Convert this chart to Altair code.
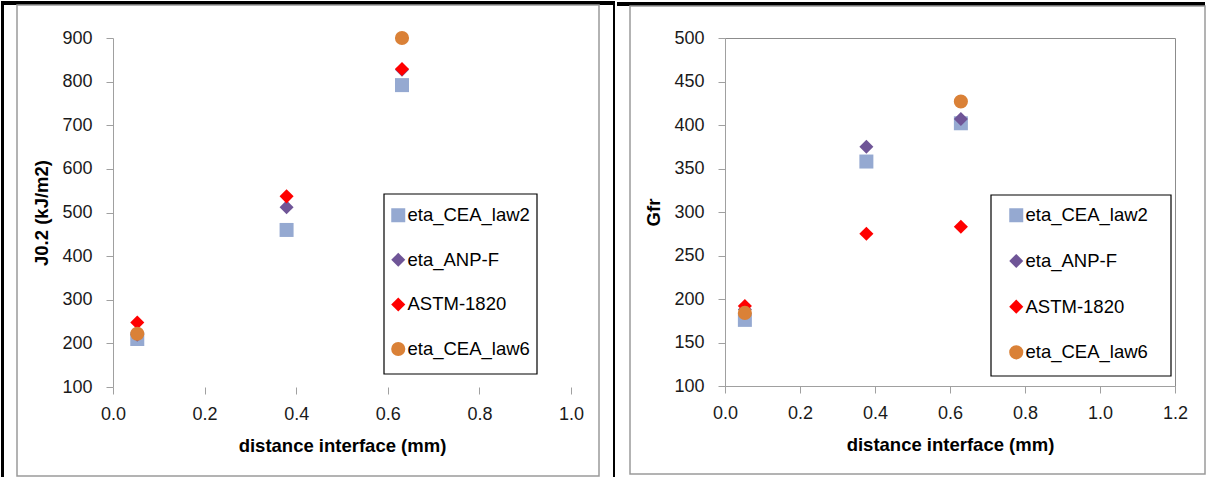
import altair as alt
import pandas as pd

# ---- data ----
series = ["eta_CEA_law2", "eta_ANP-F", "ASTM-1820", "eta_CEA_law6"]
colors = ["#95A9D1", "#6F5597", "#FF0000", "#DA8137"]
shapes = ["square", "diamond", "diamond", "circle"]
sizes = [196, 200, 90, 225]

# Left panel: J0.2 (kJ/m2)
left_x = [0.053, 0.379, 0.631]
left_law2 = [210, 460, 792]
left_anpf = [220, 512, 827]
left_astm = [248, 537, 829]
left_law6_x = [0.053, 0.631]
left_law6 = [222, 900]

# Right panel: Gfr
right_x = [0.053, 0.377, 0.629]
right_law2 = [176, 358, 402]
right_anpf = [188, 375, 407]
right_astm = [192, 275, 283]
right_law6_x = [0.053, 0.629]
right_law6 = [184, 427]

left_xticks = [0.0, 0.2, 0.4, 0.6, 0.8, 1.0]
left_yticks = [100, 200, 300, 400, 500, 600, 700, 800, 900]
right_xticks = [0.0, 0.2, 0.4, 0.6, 0.8, 1.0, 1.2]
right_yticks = [100, 150, 200, 250, 300, 350, 400, 450, 500]


def build_df(xs, law2, anpf, astm, law6_x, law6):
    rows = []
    for xv, yv in zip(xs, law2):
        rows.append({"x": xv, "y": yv, "series": series[0]})
    for xv, yv in zip(xs, anpf):
        rows.append({"x": xv, "y": yv, "series": series[1]})
    for xv, yv in zip(xs, astm):
        rows.append({"x": xv, "y": yv, "series": series[2]})
    for xv, yv in zip(law6_x, law6):
        rows.append({"x": xv, "y": yv, "series": series[3]})
    return pd.DataFrame(rows)


df_left = build_df(left_x, left_law2, left_anpf, left_astm, left_law6_x, left_law6)
df_right = build_df(right_x, right_law2, right_anpf, right_astm, right_law6_x, right_law6)

FONT = "Liberation Sans"
AXIS_GRAY = "#A0A0A0"
FRAME_GRAY = "#9A9A9A"


def deco(x1, x2, y1, y2, fill=None, stroke=None, sw=1.0):
    if stroke is None:
        mk = alt.Chart(alt.Data(values=[{"k": 0}])).mark_rect(fill=fill, strokeWidth=0)
    else:
        mk = alt.Chart(alt.Data(values=[{"k": 0}])).mark_rect(
            fill="white", fillOpacity=0, stroke=stroke, strokeWidth=sw
        )
    return mk.encode(x=alt.value(x1), x2=alt.value(x2), y=alt.value(y1), y2=alt.value(y2))


def points(df, xdom, ydom, xticks, yticks, ytitle, xdomain_line, lx, ly, rowpad):
    leg = alt.Legend(
        title=None,
        orient="none",
        legendX=lx,
        legendY=ly,
        padding=0,
        labelFont=FONT,
        labelFontSize=18.5,
        labelColor="#000000",
        symbolSize=130,
        symbolStrokeWidth=0,
        rowPadding=rowpad,
        labelOffset=0,
    )
    return alt.Chart(df).mark_point(filled=True, opacity=1, strokeWidth=0).encode(
        x=alt.X(
            "x:Q",
            scale=alt.Scale(domain=xdom, nice=False, zero=False),
            axis=alt.Axis(
                values=xticks,
                format=".1f",
                grid=False,
                domain=xdomain_line,
                domainColor=AXIS_GRAY,
                tickColor=AXIS_GRAY,
                tickSize=7,
                labelPadding=11,
                labelFont=FONT,
                labelFontSize=18,
                labelColor="#1a1a1a",
                labelFlush=False,
                labelOverlap=False,
                title="distance interface (mm)",
                titleFont=FONT,
                titleFontSize=18.5,
                titleFontWeight="bold",
                titleColor="#000000",
                titlePadding=13,
            ),
        ),
        y=alt.Y(
            "y:Q",
            scale=alt.Scale(domain=ydom, nice=False, zero=False),
            axis=alt.Axis(
                values=yticks,
                format="d",
                grid=False,
                domainColor=AXIS_GRAY,
                tickColor=AXIS_GRAY,
                tickSize=7,
                labelPadding=14,
                labelFont=FONT,
                labelFontSize=18,
                labelColor="#1a1a1a",
                labelFlush=False,
                labelOverlap=False,
                title=ytitle,
                titleFont=FONT,
                titleFontSize=18.5,
                titleFontWeight="bold",
                titleColor="#000000",
                titlePadding=10,
            ),
        ),
        color=alt.Color("series:N", scale=alt.Scale(domain=series, range=colors), legend=leg),
        shape=alt.Shape("series:N", scale=alt.Scale(domain=series, range=shapes), legend=leg),
        size=alt.Size("series:N", scale=alt.Scale(domain=series, range=sizes), legend=None),
    )


left_pts = points(df_left, [0, 1.0], [100, 900], left_xticks, left_yticks,
                  "J0.2  (kJ/m2)", False, 276, 168, 25.6)
left = alt.layer(
    deco(-112, 502, -37, -33, fill="black"),
    deco(-112, -109, -37, 440, fill="black"),
    deco(500, 502, -37, 440, fill="black"),
    deco(-96, 486, -33, 438, stroke=FRAME_GRAY, sw=1.5),
    deco(271, 424, 156, 336, stroke="black", sw=1.2),
    left_pts,
).properties(width=458, height=349, view=alt.ViewBackground(stroke="transparent"))

right_pts = points(df_right, [0, 1.2], [100, 500], right_xticks, right_yticks,
                   "Gfr", True, 282, 168, 26.7)
right = alt.layer(
    deco(-108, 480, -36, -32, fill="black"),
    deco(-95, 480, -32, 436, stroke=FRAME_GRAY, sw=1.5),
    deco(266, 446, 157, 338, stroke="black", sw=1.2),
    right_pts,
).properties(width=450, height=348, view=alt.ViewBackground(stroke="#8C8C8C", strokeWidth=1))

chart = (
    alt.hconcat(left, right, spacing=0)
    .resolve_scale(color="independent", shape="independent", size="independent",
                   x="independent", y="independent")
    .resolve_legend(color="independent", shape="independent", size="independent")
    .properties(padding=0, background="white")
)

chart.save("out.html", embed_options={"renderer": "svg", "actions": False})
